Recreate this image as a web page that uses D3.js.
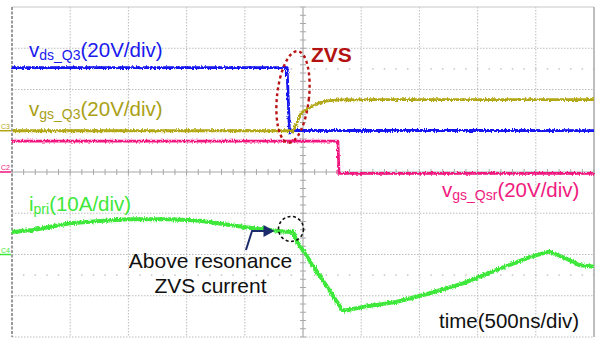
<!DOCTYPE html>
<html>
<head>
<meta charset="utf-8">
<script src="https://cdn.jsdelivr.net/npm/d3@7"></script>
<style>
  html, body { margin: 0; padding: 0; background: #fff; }
  svg { display: block; }
  text { font-family: "Liberation Sans", Arial, sans-serif; }
</style>
</head>
<body>
<svg id="scope" width="596" height="339"></svg>
<script>
// ---- waveform data: [time (ns), value] ----
// drain-source voltage of Q3 (V)
const vdsQ3 = [[-2500, 30.6], [-137, 30.6], [-118, 2], [-112, -1.0], [-106, 0.5], [-100, -0.4], [-90, 0.2], [2500, 0.1]];
// gate-source voltage of Q3 (V)
const vgsQ3 = [[-2500, 0], [-95, 0], [-88, -0.6], [-78, 0.4], [-60, 2.8], [-17, 8.6], [52, 11.0], [137, 13.5],
               [223, 14.6], [309, 14.9], [600, 15.1], [2500, 15.1]];
// gate-source voltage of the synchronous rectifier (V)
const vgsQsr = [[-2500, 15], [300, 15], [309, -0.7], [2500, -0.7]];
// primary current (A)
const iPri = [[-2500, 5.45], [-2320, 5.94], [-2002, 7.56], [-1744, 8.12], [-1503, 8.53], [-1168, 8.55], [-997, 8.36],
              [-885, 8.19], [-490, 6.59], [-284, 5.94], [-172, 5.58], [-112, 5.45], [-85, 5.6], [-60, 3.52],
              [344, -13.7], [515, -12.7], [799, -11.5], [1082, -9.45], [1375, -7.0], [1658, -3.8],
              [1942, -0.68], [2113, 0.68], [2234, -0.61], [2371, -2.55], [2500, -2.95]];

// channel settings: vertical scale per division and ground level (divisions from centre)
const channels = [
  { name: "C1", data: vdsQ3,  perDiv: 20, ground: 1,  color: "#1414f0", width: 2.8 },
  { name: "C3", data: vgsQ3,  perDiv: 20, ground: 1,  color: "#b2a716", width: 2.8 },
  { name: "C2", data: vgsQsr, perDiv: 20, ground: 0,  color: "#f2167f", width: 2.8 },
  { name: "C4", data: iPri,   perDiv: 10, ground: -2, color: "#3ee83a", width: 4 }
];
const groundMarkers = [
  { label: "C3", ground: 1,  color: "#b2a716" },
  { label: "C2", ground: 0,  color: "#f2167f" },
  { label: "C4", ground: -2, color: "#3ee83a" }
];

const timePerDiv = 500;   // ns
const hDivs = 10, vDivs = 8;

const svg = d3.select("#scope");
const x = d3.scaleLinear().domain([-timePerDiv * hDivs / 2, timePerDiv * hDivs / 2]).range([12, 594]);
const yDiv = d3.scaleLinear().domain([-vDivs / 2, vDivs / 2]).range([337, 7]);

// noise texture for the traces
const defs = svg.append("defs");
const filt = defs.append("filter").attr("id", "noisy").attr("x", "-5%").attr("y", "-20%").attr("width", "110%").attr("height", "140%");
filt.append("feTurbulence").attr("type", "fractalNoise").attr("baseFrequency", "0.9 0.35").attr("numOctaves", 2).attr("seed", 3).attr("result", "n");
filt.append("feDisplacementMap").attr("in", "SourceGraphic").attr("in2", "n").attr("scale", 3.6)
  .attr("xChannelSelector", "R").attr("yChannelSelector", "G");

// ---- graticule ----
const grid = svg.append("g");
const xTicks = d3.range(-hDivs / 2, hDivs / 2 + 1).map(d => d * timePerDiv);
const yTicks = d3.range(-vDivs / 2, vDivs / 2 + 1);

grid.selectAll("line.vg").data(xTicks.slice(1, -1).filter(t => t !== 0)).join("line")
  .attr("x1", d => x(d)).attr("x2", d => x(d)).attr("y1", yDiv(4)).attr("y2", yDiv(-4))
  .attr("stroke", "#bdbdbd").attr("stroke-width", 1).attr("stroke-dasharray", "1.5,1.5");
grid.selectAll("line.hg").data(yTicks.slice(1, -1).filter(t => t !== 0)).join("line")
  .attr("x1", x.range()[0]).attr("x2", x.range()[1]).attr("y1", d => yDiv(d)).attr("y2", d => yDiv(d))
  .attr("stroke", "#bdbdbd").attr("stroke-width", 1).attr("stroke-dasharray", "1.5,1.5");

// sparse dotted rows at half divisions
[2.5, -2.5].forEach(r => {
  grid.selectAll(null).data(d3.range(-hDivs * 5 / 2, hDivs * 5 / 2 + 1)).join("rect")
    .attr("x", d => x(d * timePerDiv / 5) - 0.75).attr("y", yDiv(r) - 0.75)
    .attr("width", 1.5).attr("height", 1.5).attr("fill", "#c4c4c4");
});

// centre axes with minor ticks
grid.append("line").attr("x1", x.range()[0]).attr("x2", x.range()[1]).attr("y1", yDiv(0)).attr("y2", yDiv(0))
  .attr("stroke", "#a8a8a8").attr("stroke-width", 1.2);
grid.append("line").attr("x1", x(0)).attr("x2", x(0)).attr("y1", yDiv(4)).attr("y2", yDiv(-4))
  .attr("stroke", "#a8a8a8").attr("stroke-width", 1.2);
grid.selectAll("line.xt").data(d3.range(-hDivs * 5 / 2, hDivs * 5 / 2 + 1)).join("line")
  .attr("x1", d => x(d * timePerDiv / 5)).attr("x2", d => x(d * timePerDiv / 5))
  .attr("y1", yDiv(0) - 3).attr("y2", yDiv(0) + 3).attr("stroke", "#a8a8a8").attr("stroke-width", 1);
grid.selectAll("line.yt").data(d3.range(-vDivs * 5 / 2, vDivs * 5 / 2 + 1)).join("line")
  .attr("x1", x(0) - 3).attr("x2", x(0) + 3)
  .attr("y1", d => yDiv(d / 5)).attr("y2", d => yDiv(d / 5)).attr("stroke", "#a8a8a8").attr("stroke-width", 1);

// frame
grid.append("line").attr("x1", x.range()[0]).attr("x2", x.range()[1]).attr("y1", yDiv(4)).attr("y2", yDiv(4))
  .attr("stroke", "#c8c8c8").attr("stroke-width", 1.2);
grid.append("line").attr("x1", x.range()[0]).attr("x2", x.range()[1]).attr("y1", yDiv(-4)).attr("y2", yDiv(-4))
  .attr("stroke", "#bdbdbd").attr("stroke-width", 1).attr("stroke-dasharray", "1.5,1.5");
grid.append("line").attr("x1", x.range()[1]).attr("x2", x.range()[1]).attr("y1", yDiv(4)).attr("y2", yDiv(-4))
  .attr("stroke", "#a8a8a8").attr("stroke-width", 1.5);
grid.append("line").attr("x1", x.range()[0]).attr("x2", x.range()[0]).attr("y1", yDiv(4)).attr("y2", yDiv(-4))
  .attr("stroke", "#9a9a9a").attr("stroke-width", 2).attr("stroke-dasharray", "3,1.5");

// ground markers on the left edge
groundMarkers.forEach(m => {
  svg.append("line").attr("x1", 0).attr("x2", 11).attr("y1", yDiv(m.ground)).attr("y2", yDiv(m.ground))
    .attr("stroke", m.color).attr("stroke-width", 1.5);
  svg.append("text").attr("x", 1).attr("y", yDiv(m.ground) - 2).attr("font-size", 7)
    .attr("fill", m.color).text(m.label);
});

// ---- traces ----
const traces = svg.append("g").attr("filter", "url(#noisy)");
channels.forEach(ch => {
  const line = d3.line()
    .x(d => x(d[0]))
    .y(d => yDiv(ch.ground + d[1] / ch.perDiv));
  traces.append("path").datum(ch.data)
    .attr("d", line).attr("fill", "none")
    .attr("stroke", ch.color).attr("stroke-width", ch.width)
    .attr("stroke-linejoin", "round");
});

// ---- annotations ----
const ann = svg.append("g");
// ZVS ellipse around the switching edge
const ell = { t: -86, div: 1.82 };
ann.append("ellipse")
  .attr("transform", `translate(${x(ell.t)},${yDiv(ell.div)}) rotate(6)`)
  .attr("rx", 16).attr("ry", 46)
  .attr("fill", "none").attr("stroke", "#b81414").attr("stroke-width", 2.4).attr("stroke-dasharray", "3,3");
ann.append("text").attr("x", 311).attr("y", 62).attr("font-size", 21).attr("font-weight", "bold")
  .attr("fill", "#b31212").text("ZVS");

// circle on the current knee
const yI = a => yDiv(-2 + a / 10);
ann.append("circle").attr("cx", x(-103)).attr("cy", yI(6.2)).attr("r", 12.5)
  .attr("fill", "none").attr("stroke", "#111").attr("stroke-width", 1.6).attr("stroke-dasharray", "3,2.5");

// pointer arrow
const arrowPts = [[-490, 1.1], [-438, 5.7], [-330, 5.7]];
ann.append("path")
  .attr("d", d3.line().x(d => x(d[0])).y(d => yI(d[1]))(arrowPts))
  .attr("fill", "none").attr("stroke", "#1b2b6b").attr("stroke-width", 2);
const tip = [x(-245), yI(5.7)];
ann.append("path")
  .attr("d", `M${tip[0]},${tip[1]} L${tip[0] - 11},${tip[1] - 6} L${tip[0] - 11},${tip[1] + 6} Z`)
  .attr("fill", "#1b2b6b");

ann.append("text").attr("x", 210.5).attr("y", 268).attr("font-size", 21).attr("text-anchor", "middle")
  .attr("fill", "#111").text("Above resonance");
ann.append("text").attr("x", 210.5).attr("y", 293).attr("font-size", 21).attr("text-anchor", "middle")
  .attr("fill", "#111").text("ZVS current");
ann.append("text").attr("x", 439).attr("y", 328).attr("font-size", 20.5)
  .attr("fill", "#111").text("time(500ns/div)");

// channel labels with subscripts
const labels = [
  { main: "v", sub: "ds_Q3", rest: "(20V/div)", x: 29, y: 57, color: "#1a1aee" },
  { main: "v", sub: "gs_Q3", rest: "(20V/div)", x: 29, y: 116, color: "#aaa016" },
  { main: "v", sub: "gs_Qsr", rest: "(20V/div)", x: 442, y: 197, color: "#f01a80" },
  { main: "i", sub: "pri", rest: "(10A/div)", x: 29, y: 211, color: "#3ee83a" }
];
labels.forEach(l => {
  const t = ann.append("text").attr("x", l.x).attr("y", l.y).attr("font-size", 20.5).attr("fill", l.color);
  t.append("tspan").text(l.main);
  t.append("tspan").attr("font-size", 14).attr("dy", 3).text(l.sub);
  t.append("tspan").attr("dy", -3).text(l.rest);
});
</script>
</body>
</html>
